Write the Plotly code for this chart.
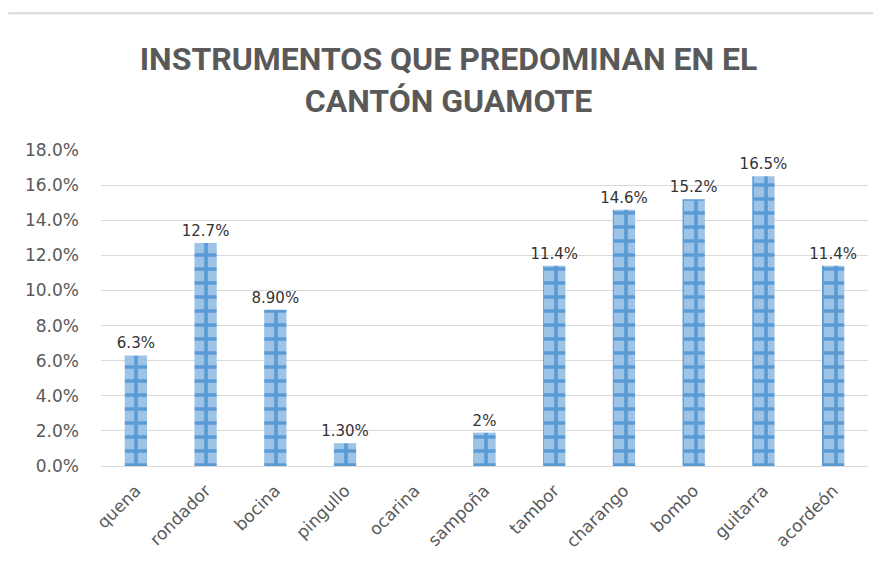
import plotly.graph_objects as go

categories = ["quena", "rondador", "bocina", "pingullo", "ocarina", "sampoña",
              "tambor", "charango", "bombo", "guitarra", "acordeón"]
values = [6.3, 12.7, 8.9, 1.3, 0.0, 1.9, 11.4, 14.6, 15.2, 16.5, 11.4]
value_labels = ["6.3%", "12.7%", "8.90%", "1.30%", "", "2%", "11.4%", "14.6%",
                "15.2%", "16.5%", "11.4%"]
y_ticks = [0, 2, 4, 6, 8, 10, 12, 14, 16, 18]
y_tick_labels = [f"{v:.1f}%" for v in y_ticks]

fig = go.Figure()
fig.add_trace(go.Bar(
    x=categories,
    y=values,
    text=value_labels,
    textposition="outside",
    constraintext="none",
    textfont=dict(family="DejaVu Sans", size=15, color="#333333"),
    cliponaxis=False,
    marker=dict(
        color="#9DC3E6",
        line=dict(width=0),
        pattern=dict(shape="+", fgcolor="#5B9BD5", bgcolor="#9DC3E6",
                     size=14, solidity=0.45, fillmode="replace"),
    ),
    hoverinfo="x+y",
))

fig.update_layout(
    width=881, height=569,
    paper_bgcolor="white", plot_bgcolor="white",
    margin=dict(l=93, r=21, t=142, b=111, autoexpand=False),
    bargap=0.68,
    showlegend=False,
    title=dict(
        text="<b>INSTRUMENTOS QUE PREDOMINAN EN EL<br>CANTÓN GUAMOTE</b>",
        x=0.5, xanchor="center", y=0.891, yanchor="middle",
        font=dict(family="Roboto", size=32, color="#595959"),
    ),
    xaxis=dict(
        tickangle=-45,
        tickfont=dict(family="DejaVu Sans", size=17, color="#595959"),
        showline=True, linecolor="#D9D9D9", linewidth=1,
        ticks="", automargin=False, ticklabelstandoff=7,
    ),
    yaxis=dict(
        range=[0, 18],
        tickvals=y_ticks, ticktext=y_tick_labels,
        tickfont=dict(family="DejaVu Sans", size=17, color="#595959"),
        showgrid=True, gridcolor="#D9D9D9", gridwidth=1,
        zeroline=False, ticks="", ticklabelstandoff=21, automargin=False,
    ),
    shapes=[dict(type="line", xref="paper", yref="paper",
                 x0=-0.121, x1=1.017, y0=1.433, y1=1.433,
                 line=dict(color="#D9D9D9", width=2))],
)

fig.write_html("out.html")
